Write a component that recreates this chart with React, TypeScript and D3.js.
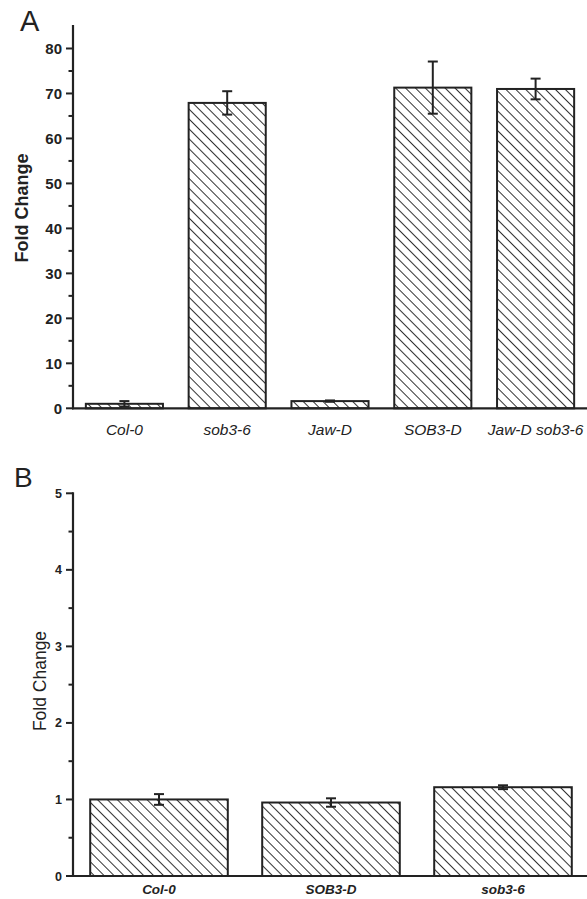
import React from 'react';
import * as d3 from 'd3';

// panel A
const catsA = ['Col-0', 'sob3-6', 'Jaw-D', 'SOB3-D', 'Jaw-D sob3-6'];
const valsA = [1.0, 67.9, 1.6, 71.3, 71.0];
const errA = [0.6, 2.6, 0.15, 5.8, 2.3];
const majorA = [0, 10, 20, 30, 40, 50, 60, 70, 80];
const minorA = [5, 15, 25, 35, 45, 55, 65, 75];

// panel B
const catsB = ['Col-0', 'SOB3-D', 'sob3-6'];
const valsB = [1.0, 0.96, 1.16];
const errB = [0.07, 0.055, 0.025];
const majorB = [0, 1, 2, 3, 4, 5];
const minorB = [0.5, 1.5, 2.5, 3.5, 4.5];

const ink = '#222';
const font = '"Liberation Sans", Arial, sans-serif';

function Panel(props) {
    const { cats, vals, errs, major, minor, x, y, axisTop, tickFont, catStyle, titleStyle, titleX, titleY } = props;
    const y0 = y(0);
    return <g>
        {cats.map((c, i) =>
            <rect key={c} x={x(c)} y={y(vals[i])} width={x.bandwidth()} height={y0 - y(vals[i])}
                fill="url(#hatch)" stroke={ink} strokeWidth={2} />
        )}
        {cats.map((c, i) => {
            const cx = x(c) + x.bandwidth() / 2;
            const hi = y(vals[i] + errs[i]), lo = y(vals[i] - errs[i]);
            return <g key={c} stroke={ink} strokeWidth={2}>
                <line x1={cx} x2={cx} y1={hi} y2={lo} />
                <line x1={cx - 5} x2={cx + 5} y1={hi} y2={hi} />
                <line x1={cx - 5} x2={cx + 5} y1={lo} y2={lo} />
            </g>;
        })}
        {/* axes */}
        <line x1={73} x2={73} y1={axisTop} y2={y0 + 1} stroke={ink} strokeWidth={2.2} />
        <line x1={72} x2={587} y1={y0} y2={y0} stroke={ink} strokeWidth={2.2} />
        {major.map(t =>
            <g key={t}>
                <line x1={66} x2={73} y1={y(t)} y2={y(t)} stroke={ink} strokeWidth={2} />
                <text x={62} y={y(t)} dy="0.36em" textAnchor="end" fontFamily={font}
                    fontWeight="bold" fontSize={tickFont} fill={ink}>{t}</text>
            </g>
        )}
        {minor.map(t =>
            <line key={t} x1={68.5} x2={73} y1={y(t)} y2={y(t)} stroke={ink} strokeWidth={2} />
        )}
        {cats.map(c =>
            <text key={c} x={x(c) + x.bandwidth() / 2} y={catStyle.y} textAnchor="middle"
                fontFamily={font} fontStyle="italic" fontWeight={catStyle.weight}
                fontSize={catStyle.size} fill={ink}>{c}</text>
        )}
        <text transform={`translate(${titleX},${titleY}) rotate(-90)`} textAnchor="middle"
            fontFamily={font} fontWeight={titleStyle.weight} fontSize={titleStyle.size} fill={ink}>Fold Change</text>
    </g>;
}

export default function App() {
    const xA = d3.scaleBand().domain(catsA).range([73, 587]).paddingInner(0.25).paddingOuter(0.125);
    const yA = d3.scaleLinear().domain([0, 85]).range([408.3, 26]);
    const xB = d3.scaleBand().domain(catsB).range([73, 589]).paddingInner(0.2).paddingOuter(0.1);
    const yB = d3.scaleLinear().domain([0, 5]).range([876, 493.3]);

    return <svg width={587} height={899} style={{ position: 'absolute', left: 0, top: 0, background: '#fff' }}>
        <defs>
            <pattern id="hatch" patternUnits="userSpaceOnUse" width={7} height={7} patternTransform="rotate(-45)">
                <rect width={7} height={7} fill="#fff" />
                <line x1={0.5} x2={0.5} y1={0} y2={7} stroke="#333" strokeWidth={1} />
            </pattern>
        </defs>
        <text x={20} y={31} fontFamily={font} fontSize={29} fill={ink}>A</text>
        <text x={14} y={487} fontFamily={font} fontSize={28} fill={ink}>B</text>
        <Panel cats={catsA} vals={valsA} errs={errA} major={majorA} minor={minorA}
            x={xA} y={yA} axisTop={25} tickFont={15}
            catStyle={{ y: 435, size: 15.5, weight: 'normal' }}
            titleStyle={{ size: 18, weight: 'bold' }} titleX={28} titleY={208} />
        <Panel cats={catsB} vals={valsB} errs={errB} major={majorB} minor={minorB}
            x={xB} y={yB} axisTop={492.3} tickFont={12.5}
            catStyle={{ y: 894, size: 13.5, weight: 'bold' }}
            titleStyle={{ size: 17.5, weight: 'normal' }} titleX={46} titleY={681} />
    </svg>;
}
